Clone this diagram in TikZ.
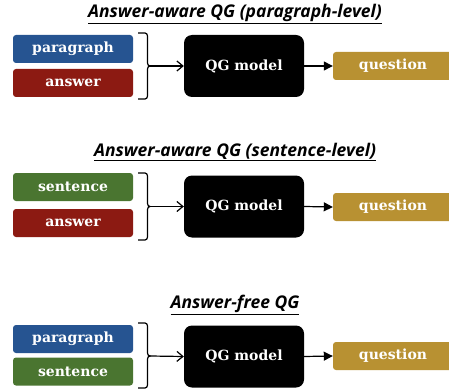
\documentclass[tikz,border=0pt]{standalone}
\usepackage{fontspec}
\setmainfont{DejaVu Serif}
\newfontfamily\titlefont{Open Sans}
\usetikzlibrary{arrows.meta}
\definecolor{cblue}{RGB}{38,84,145}
\definecolor{cred}{RGB}{140,26,18}
\definecolor{cgreen}{RGB}{74,117,48}
\definecolor{cgold}{RGB}{184,145,50}
\begin{document}
\begin{tikzpicture}[x=1pt,y=-1pt,
  inbox/.style={rounded corners=3pt,minimum width=120pt,minimum height=28pt,inner sep=0pt,text=white,font=\bfseries\fontsize{14}{16}\selectfont},
  qgbox/.style={fill=black,rounded corners=8pt,minimum width=120pt,minimum height=62pt,inner sep=0pt,text=white,font=\bfseries\fontsize{14}{16}\selectfont},
  qbox/.style={fill=cgold,rounded corners=3pt,minimum width=120pt,minimum height=28pt,inner sep=0pt,text=white,font=\bfseries\fontsize{14}{16}\selectfont},
  ttl/.style={font=\titlefont\bfseries\itshape\fontsize{17.5}{19}\selectfont,inner sep=0pt},
  brace/.style={line width=1.2pt,black},
  inarrow/.style={-{Straight Barb[length=6pt,width=10pt]},line width=1.2pt},
  outarrow/.style={-{Triangle[length=9pt,width=9pt]},line width=1.2pt}]
\useasboundingbox (0,0) rectangle (449,390);
% Panel 1
\node[ttl] (t1) at (235,14) {\underline{Answer-aware QG (paragraph-level)}};
\node[inbox,fill=cblue] (p1) at (73,49) {paragraph};
\node[inbox,fill=cred] (a1) at (73,83) {answer};
\node[qgbox] (m1) at (244,66) {QG model};
\node[qbox] (q1) at (393,66) {question};
\coordinate (b1) at (150,66);
\draw[brace] (138,33) -- (145,33) to[out=0,in=90] (147.5,36) -- (147.5,63) to[out=-90,in=180] (b1) to[out=180,in=90] (147.5,69) -- (147.5,96) to[out=-90,in=0] (145,99) -- (138,99);
\draw[inarrow] (b1) -- (m1.west);
\draw[outarrow] (m1.east) -- (q1.west);
% Panel 2
\node[ttl] (t2) at (235,152) {\underline{Answer-aware QG (sentence-level)}};
\node[inbox,fill=cgreen] (s2) at (73,187) {sentence};
\node[inbox,fill=cred] (a2) at (73,223) {answer};
\node[qgbox] (m2) at (244,206.5) {QG model};
\node[qbox] (q2) at (393,207) {question};
\coordinate (b2) at (150,206.5);
\draw[brace] (138,173) -- (145,173) to[out=0,in=90] (147.5,176) -- (147.5,203.5) to[out=-90,in=180] (b2) to[out=180,in=90] (147.5,209.5) -- (147.5,237) to[out=-90,in=0] (145,240) -- (138,240);
\draw[inarrow] (b2) -- (m2.west);
\draw[outarrow] (m2.east) -- (q2.west);
% Panel 3
\node[ttl] (t3) at (235,305) {\underline{Answer-free QG}};
\node[inbox,fill=cblue] (p3) at (73,339) {paragraph};
\node[inbox,fill=cgreen] (s3) at (73,371.5) {sentence};
\node[qgbox] (m3) at (244,356.5) {QG model};
\node[qbox] (q3) at (393,356) {question};
\coordinate (b3) at (150,356);
\draw[brace] (138,323) -- (145,323) to[out=0,in=90] (147.5,326) -- (147.5,353) to[out=-90,in=180] (b3) to[out=180,in=90] (147.5,359) -- (147.5,385) to[out=-90,in=0] (145,388) -- (138,388);
\draw[inarrow] (b3) -- (m3.west);
\draw[outarrow] (m3.east) -- (q3.west);
\end{tikzpicture}
\end{document}
